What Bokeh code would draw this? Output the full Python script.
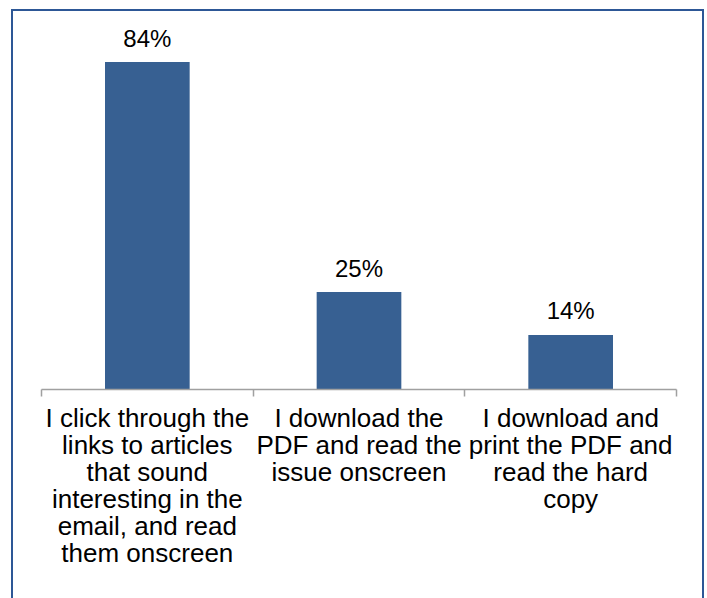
from bokeh.plotting import figure
from bokeh.models import Range1d, FixedTicker, ColumnDataSource
from bokeh.core.properties import value
from bokeh.embed import file_html
from bokeh.resources import INLINE

categories = [
    "I click through the\nlinks to articles\nthat sound\ninteresting in the\nemail, and read\nthem onscreen",
    "I download the\nPDF and read the\nissue onscreen",
    "I download and\nprint the PDF and\nread the hard\ncopy",
]
values = [84, 25, 14]
labels = ["84%", "25%", "14%"]

positions = list(range(len(categories)))

src = ColumnDataSource(dict(x=positions, top=values, label=labels))

p = figure(
    width=689, height=587,
    x_range=Range1d(-0.5, len(categories) - 0.5),
    y_range=Range1d(0, 94.4),
    output_backend="svg", toolbar_location=None,
    min_border_left=28, min_border_right=30, min_border_top=10, min_border_bottom=211,
    y_axis_location=None,
    outline_line_color=None,
    background_fill_color="white", border_fill_color="white",
)
p.styles = {
    "box-sizing": "content-box",
    "margin-left": "11px",
    "margin-top": "9px",
    "border-left": "2px solid #2D5796",
    "border-top": "2px solid #2D5796",
    "border-right": "2px solid #2D5796",
}

p.vbar(x="x", top="top", width=0.4, bottom=0, source=src,
       fill_color="#376092", line_color=None)

p.text(x="x", y="top", text="label", source=src,
       text_align="center", text_baseline="middle", y_offset=-24,
       text_font=value("Liberation Sans"), text_font_size="24px", text_color="black")

p.xgrid.grid_line_color = None
p.ygrid.grid_line_color = None

ax = p.xaxis[0]
ax.ticker = FixedTicker(ticks=positions,
                        minor_ticks=[i - 0.5 for i in range(len(categories) + 1)])
ax.major_label_overrides = {i: c for i, c in enumerate(categories)}
ax.axis_line_color = "#A0A0A0"
ax.axis_line_width = 1.5
ax.major_tick_line_color = None
ax.major_tick_out = 0
ax.major_tick_in = 0
ax.minor_tick_line_color = "#A0A0A0"
ax.minor_tick_line_width = 1.5
ax.minor_tick_out = 7
ax.minor_tick_in = 0
ax.major_label_standoff = 6
ax.major_label_text_font = "Liberation Sans"
ax.major_label_text_font_size = "26px"
ax.major_label_text_color = "black"
ax.major_label_text_line_height = 0.9
ax.major_label_orientation = "horizontal"

open("out.html", "w").write(file_html(p, INLINE))
